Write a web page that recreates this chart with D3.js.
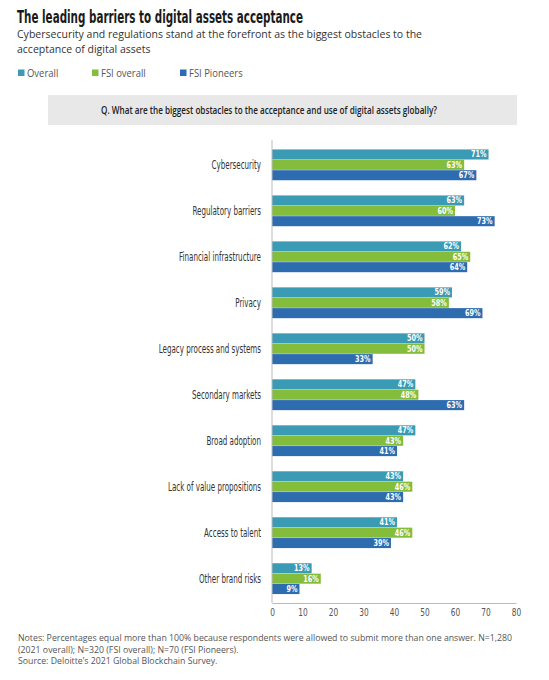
<!DOCTYPE html>
<html><head><meta charset="utf-8">
<script src="https://cdn.jsdelivr.net/npm/d3@7"></script>
<style>
body{margin:0;background:#fff;}
svg{display:block;}
.cond{font-family:"DejaVu Sans Condensed","DejaVu Sans",sans-serif;font-stretch:condensed;}
.os{font-family:"Open Sans",sans-serif;}
</style></head><body>
<svg id="c" width="549" height="680"></svg>
<script>
const categories = ["Cybersecurity","Regulatory barriers","Financial infrastructure","Privacy","Legacy process and systems","Secondary markets","Broad adoption","Lack of value propositions","Access to talent","Other brand risks"];
const seriesNames = ["Overall","FSI overall","FSI Pioneers"];
const overall = [71,63,62,59,50,47,47,43,41,13];
const fsiOverall = [63,60,65,58,50,48,43,46,46,16];
const fsiPioneers = [67,73,64,69,33,63,41,43,39,9];
const colors = ["#3b9ab4","#84bc3c","#2e6cb0"];
const xTicks = [0,10,20,30,40,50,60,70,80];
const noteLines = ["Notes: Percentages equal more than 100% because respondents were allowed to submit more than one answer. N=1,280","(2021 overall); N=320 (FSI overall); N=70 (FSI Pioneers).","Source: Deloitte’s 2021 Global Blockchain Survey."];
const subtitleLines = ["Cybersecurity and regulations stand at the forefront as the biggest obstacles to the","acceptance of digital assets"];

const svg = d3.select("#c");
const series = [overall, fsiOverall, fsiPioneers];

function squeeze(sel, factor){
  sel.each(function(){
    const w = this.getComputedTextLength();
    d3.select(this).attr("textLength", w*factor).attr("lengthAdjust","spacingAndGlyphs");
  });
}
function factorFor(node, target){ return target / node.getComputedTextLength(); }

// Title
const title = svg.append("text").attr("x",17).attr("y",23).attr("class","cond")
  .style("font-size","18.5px").style("font-weight","bold").attr("fill","#1a1a1a")
  .text("The leading barriers to digital assets acceptance");
squeeze(title, factorFor(title.node(), 286));

const subs = subtitleLines.map((t,i)=>svg.append("text").attr("x",17).attr("y",38.2+i*15).attr("class","os")
  .style("font-size","11px").attr("fill","#333").text(t));
const sf = factorFor(subs[0].node(), 405);
subs.forEach(s=>squeeze(s, sf));

// Legend
const legX = [18,92,180];
seriesNames.forEach((n,i)=>{
  svg.append("rect").attr("x",legX[i]).attr("y",69.5).attr("width",6.5).attr("height",6.5).attr("fill",colors[i]);
  const t = svg.append("text").attr("x",legX[i]+9).attr("y",76.5).attr("class","os").style("font-size","10.5px").attr("fill","#555").text(n);
  squeeze(t, 0.9);
});

// Question box
svg.append("rect").attr("x",48).attr("y",95).attr("width",469).attr("height",30).attr("fill","#e8e8e8");
const q = svg.append("text").attr("x",101).attr("y",113.5).attr("class","os")
  .style("font-size","9.8px").style("font-weight","600").attr("fill","#222")
  .text("Q. What are the biggest obstacles to the acceptance and use of digital assets globally?");
squeeze(q, factorFor(q.node(), 336));

// Scales
const x = d3.scaleLinear().domain([0,80]).range([272,516]);
const y = d3.scaleBand().domain(categories).range([143,600.5]).paddingInner(0.33).paddingOuter(0.14);
const ySub = d3.scaleBand().domain(seriesNames).range([0,y.bandwidth()]).paddingInner(0.03);

const g = svg.append("g");
const labels = [];
categories.forEach((c,ci)=>{
  series.forEach((s,si)=>{
    const v = s[ci];
    const yy = y(c)+ySub(seriesNames[si]);
    g.append("rect").attr("x",x(0)).attr("y",yy).attr("width",x(v)-x(0)).attr("height",ySub.bandwidth()).attr("fill",colors[si]);
    const vt = g.append("text").attr("x",x(v)-2).attr("y",yy+ySub.bandwidth()/2+3).attr("text-anchor","end")
      .attr("class","cond").style("font-size","8.5px").style("font-weight","bold").attr("fill","#fff").text(v+"%");
    squeeze(vt, 0.85);
  });
  labels.push(g.append("text").attr("x",261).attr("y",y(c)+y.bandwidth()/2+4).attr("text-anchor","end")
    .attr("class","cond").style("font-size","12px").attr("fill","#333").text(c));
});
const lf = factorFor(labels[2].node(), 82);
labels.forEach(l=>squeeze(l, lf));

// Axes
const ax = svg.append("g").attr("transform","translate(0,603)")
  .call(d3.axisBottom(x).tickValues(xTicks).tickSize(0).tickPadding(5));
ax.select(".domain").attr("stroke","#bbb");
ax.selectAll("text").attr("class","cond").style("font-size","11px").attr("fill","#555");
squeeze(ax.selectAll("text"), 0.75);
svg.append("line").attr("x1",272).attr("x2",272).attr("y1",140).attr("y2",603).attr("stroke","#bbb");

// Notes
const notes = noteLines.map((t,i)=>svg.append("text").attr("x",18).attr("y",641+i*11.5).attr("class","os")
  .style("font-size","9px").attr("fill","#555").text(t));
const nf = Math.min(1, factorFor(notes[0].node(), 494));
notes.forEach(n=>squeeze(n, nf));
</script></body></html>
